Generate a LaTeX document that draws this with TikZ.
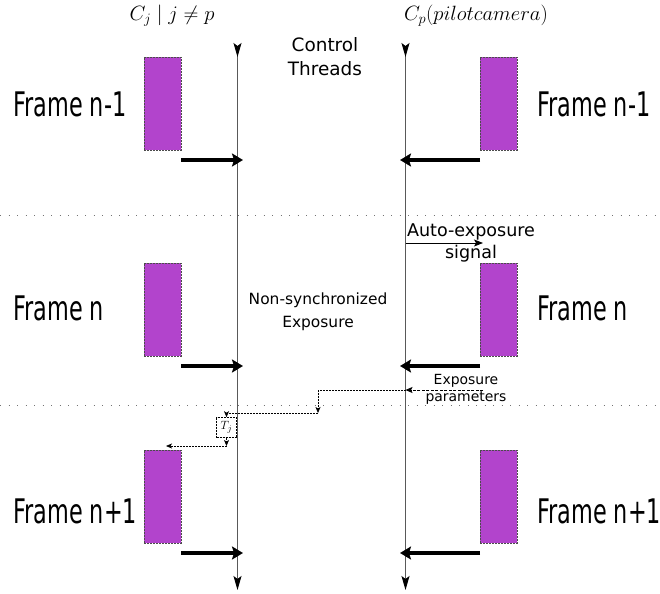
\documentclass[tikz,border=0pt]{standalone}
\usepackage{fontspec}
\usetikzlibrary{arrows.meta}
\newfontfamily\dv{DejaVu Sans}
\newfontfamily\dvc[FakeStretch=0.66]{DejaVu Sans}
\definecolor{frm}{RGB}{178,68,204}
\begin{document}
\begin{tikzpicture}[x=1bp,y=-1bp,
  thread/.style={draw=black!65, line width=1bp},
  frect/.style={draw=black!70, dash pattern=on 2bp off 1bp, fill=frm, line width=0.6bp,
    minimum width=37bp, minimum height=93bp, inner sep=0pt, anchor=north west},
  flabel/.style={font=\dvc\fontsize{34}{34}\selectfont, inner sep=0pt},
  thickarr/.style={line width=4.5bp, -{Stealth[length=11bp,width=13bp,inset=2bp]}},
  sep/.style={draw=black!55, line width=0.9bp, dash pattern=on 1bp off 7.5bp},
  dsh/.style={line width=0.8bp, dash pattern=on 3bp off 1.5bp, -{Stealth[length=7bp,width=6bp,inset=1.5bp]}},
  dsh2/.style={line width=0.7bp, dash pattern=on 2bp off 1bp, -{Stealth[length=6bp,width=5bp,inset=1.5bp]}},
  txt/.style={align=center, inner sep=0pt}
]
\useasboundingbox (0,0) rectangle (660,594);
\fill[white] (0,0) rectangle (660,594);

% separators
\coordinate (s1w) at (0,215); \coordinate (s1e) at (660,215);
\coordinate (s2w) at (0,405); \coordinate (s2e) at (660,405);
\draw[sep] (s1w) -- (s1e);
\draw[sep] (s2w) -- (s2e);

% threads
\coordinate (Ltop) at (237.5,43); \coordinate (Lbot) at (237.5,590);
\coordinate (Rtop) at (405.5,43); \coordinate (Rbot) at (405.5,590);
\draw[thread, {Stealth[reversed,length=14bp,width=8bp,inset=3bp,color=black]}-{Stealth[length=14bp,width=8bp,inset=3bp,color=black]}] (Ltop) -- (Lbot);
\draw[thread, {Stealth[reversed,length=14bp,width=8bp,inset=3bp,color=black]}-{Stealth[length=14bp,width=8bp,inset=3bp,color=black]}] (Rtop) -- (Rbot);

% top labels
\node[inner sep=0pt, font=\fontsize{20}{24}\selectfont] (lblL) at (172,16) {$C_j \mid j \neq p$};
\node[inner sep=0pt, font=\fontsize{20}{24}\selectfont] (lblR) at (476,16) {$C_p(pilotcamera)$};
\node[txt, font=\dv\fontsize{18.5}{24}\selectfont] (ct) at (325,57) {Control\\Threads};
\node[txt, font=\dv\fontsize{15.5}{23}\selectfont] (ns) at (318,312) {Non-synchronized\\Exposure};

% frames
\node[frect] (rL1) at (144,57) {};
\node[frect] (rL2) at (144,263) {};
\node[frect] (rL3) at (144,450) {};
\node[frect] (rR1) at (480,57) {};
\node[frect] (rR2) at (480,263) {};
\node[frect] (rR3) at (480,450) {};

\node[flabel, anchor=west] (fL1) at (13,104) {Frame n-1};
\node[flabel, anchor=west] (fL2) at (13,308) {Frame n};
\node[flabel, anchor=west] (fL3) at (13,511) {Frame n+1};
\node[flabel, anchor=west] (fR1) at (537,104) {Frame n-1};
\node[flabel, anchor=west] (fR2) at (537,308) {Frame n};
\node[flabel, anchor=west] (fR3) at (537,511) {Frame n+1};

% thick arrows
\coordinate (aL1s) at (181,160); \coordinate (aL1e) at (243,160);
\coordinate (aL2s) at (181,366); \coordinate (aL2e) at (243,366);
\coordinate (aL3s) at (181,553); \coordinate (aL3e) at (243,553);
\coordinate (aR1s) at (480,160); \coordinate (aR1e) at (400,160);
\coordinate (aR2s) at (480,366); \coordinate (aR2e) at (400,366);
\coordinate (aR3s) at (480,553); \coordinate (aR3e) at (400,553);
\draw[thickarr] (aL1s) -- (aL1e);
\draw[thickarr] (aL2s) -- (aL2e);
\draw[thickarr] (aL3s) -- (aL3e);
\draw[thickarr] (aR1s) -- (aR1e);
\draw[thickarr] (aR2s) -- (aR2e);
\draw[thickarr] (aR3s) -- (aR3e);

% auto-exposure signal
\coordinate (ae1) at (405.5,243); \coordinate (ae2) at (483,243);
\draw[line width=0.9bp, -{Stealth[length=9bp,width=7bp,inset=2bp]}] (ae1) -- (ae2);
\node[txt, font=\dv\fontsize{17.6}{22}\selectfont] (aet) at (471,243) {Auto-exposure\\signal};

% exposure parameters
\node[txt, font=\dv\fontsize{14}{17}\selectfont] (ept) at (466,389) {Exposure\\parameters};
\coordinate (ep1) at (483,390); \coordinate (ep2) at (405.5,390);
\draw[dsh] (ep1) -- (ep2);
\coordinate (k1) at (318,413);
\draw[dsh2] (ep2) -| (k1);
\node[draw, dash pattern=on 2bp off 1bp, line width=0.6bp, minimum width=20bp, minimum height=20bp,
  inner sep=0pt, font=\fontsize{13}{13}\selectfont] (tj) at (226.5,427.5) {$T_j$};
\draw[dsh2] (k1) -| (tj.north);
\coordinate (k2) at (226.5,446); \coordinate (k3) at (166,446);
\draw[dsh2] (tj.south) -- (k2);
\draw[dsh2] (k2) -- (k3);
\end{tikzpicture}
\end{document}
